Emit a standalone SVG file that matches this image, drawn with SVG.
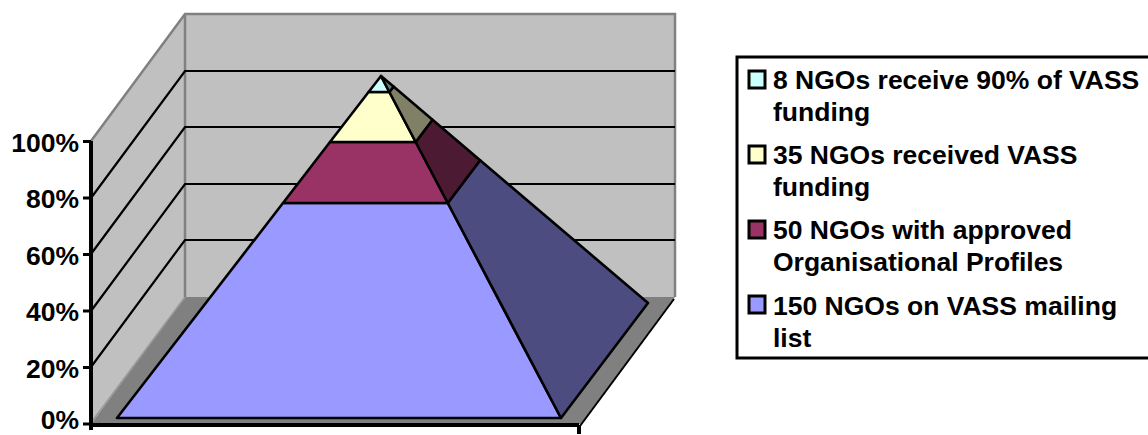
<svg xmlns="http://www.w3.org/2000/svg" width="1148" height="435" viewBox="0 0 1148 435">
<style>
.lbl{font-family:"Liberation Sans",Arial,sans-serif;font-weight:bold;font-size:26.5px;fill:#000}
.grid{stroke:#000;stroke-width:2.2;fill:none}
.edge{stroke:#808080;stroke-width:2.5;fill:none}
.face{stroke:#000;stroke-width:2.6;stroke-linejoin:round}
.sw{stroke:#000;stroke-width:3}
</style>
<rect width="1148" height="435" fill="#fff"/>
<g id="walls">
<polygon points="91,141 185,14 185,297 91,424" fill="#C0C0C0"/>
<rect x="185" y="14" width="490" height="283" fill="#C0C0C0"/>
<polygon points="91,424 185,297 675,297 581,424" fill="#808080"/>
<line x1="93" y1="420" x2="185" y2="297" stroke="#999" stroke-width="1.5"/>
<line x1="674" y1="299" x2="580" y2="426" stroke="#000" stroke-width="2"/>
<path class="edge" d="M91,141 L185,14 L675,14 L675,297 M185,14 L185,297"/>
<path class="grid" d="M91,198 L185,71 L675,71 M91,254 L185,127 L675,127 M91,311 L185,184 L675,184 M91,367 L185,240 L675,240"/>
</g>
<g id="axis">
<path stroke="#000" stroke-width="4" fill="none" d="M91,141 L91,430 M91,425 L579,425 M579,425 L579,434"/>
<path stroke="#000" stroke-width="3" fill="none" d="M83,141.5 H91 M83,198 H91 M83,254.5 H91 M83,311 H91 M83,367.5 H91 M83,424 H91"/>
<g class="lbl" text-anchor="end">
<text x="79" y="152">100%</text>
<text x="79" y="208">80%</text>
<text x="79" y="265">60%</text>
<text x="79" y="321">40%</text>
<text x="79" y="378">20%</text>
<text x="79" y="429">0%</text>
</g>
</g>
<g id="pyramid">
<g id="level-150">
<polygon class="face" points="117,418 561,418 447.8,203 283,203" fill="#9999FF"/>
<polygon class="face" points="561,418 648,303 480.1,160.3 447.8,203" fill="#4C4C80"/>
</g>
<g id="level-50">
<polygon class="face" points="283,203 447.8,203 415.7,142 330,142" fill="#993366"/>
<polygon class="face" points="447.8,203 480.1,160.3 432.5,119.8 415.7,142" fill="#4D1A33"/>
</g>
<g id="level-35">
<polygon class="face" points="330,142 415.7,142 389.4,92 368.6,92" fill="#FFFFCC"/>
<polygon class="face" points="415.7,142 432.5,119.8 393.5,86.6 389.4,92" fill="#808066"/>
</g>
<g id="level-8">
<polygon class="face" points="368.6,92 389.4,92 381,76" fill="#CCFFFF"/>
<polygon class="face" points="389.4,92 393.5,86.6 381,76" fill="#668080"/>
</g>
</g>
<g id="legend">
<rect x="737" y="57" width="420" height="301" fill="#fff" stroke="#000" stroke-width="3"/>
<g id="legend-8">
<rect class="sw" x="749" y="71" width="16" height="17" fill="#CCFFFF"/>
<text class="lbl" x="773" y="89">8 NGOs receive 90% of VASS</text>
<text class="lbl" x="773" y="121">funding</text>
</g>
<g id="legend-35">
<rect class="sw" x="749" y="146" width="16" height="17" fill="#FFFFCC"/>
<text class="lbl" x="773" y="164">35 NGOs received VASS</text>
<text class="lbl" x="773" y="196">funding</text>
</g>
<g id="legend-50">
<rect class="sw" x="749" y="221" width="16" height="17" fill="#993366"/>
<text class="lbl" x="773" y="239">50 NGOs with approved</text>
<text class="lbl" x="773" y="271">Organisational Profiles</text>
</g>
<g id="legend-150">
<rect class="sw" x="749" y="296" width="16" height="17" fill="#9999FF"/>
<text class="lbl" x="773" y="315">150 NGOs on VASS mailing</text>
<text class="lbl" x="773" y="347">list</text>
</g>
</g>
</svg>
